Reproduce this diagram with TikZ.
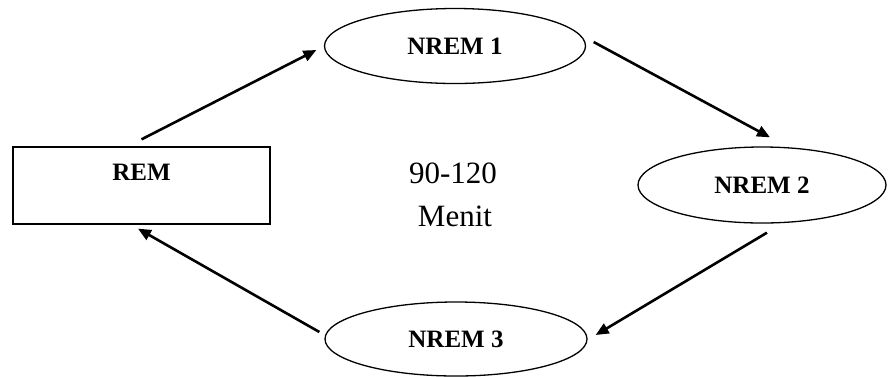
\documentclass[tikz,border=0pt]{standalone}
\usepackage{fontspec}
\setmainfont{Liberation Serif}
\usetikzlibrary{shapes.geometric,arrows.meta}
\begin{document}
\begin{tikzpicture}[x=1pt,y=-1pt,
  stage/.style={ellipse,draw,line width=1.3pt,inner sep=0pt,font=\fontsize{25}{30}\selectfont\bfseries},
  flow/.style={line width=2.6pt,-{Triangle[length=13pt,width=11pt]}},
  midtext/.style={font=\fontsize{31}{36}\selectfont,inner sep=0pt}]
\useasboundingbox[fill=white] (0,0) rectangle (888,376);
\node[stage,minimum width=261pt,minimum height=75pt] (n1) at (455,46) {NREM 1};
\node[stage,minimum width=248pt,minimum height=76pt] (n2) at (762,185) {NREM 2};
\node[stage,minimum width=262pt,minimum height=74pt] (n3) at (456,339) {NREM 3};
\node[draw,line width=1.3pt,rectangle,inner sep=0pt,minimum width=257pt,
  text height=33.5pt,text depth=43.5pt,font=\fontsize{25}{30}\selectfont\bfseries] (rem) at (141.5,185.5) {REM};
\node[midtext] (t1) at (453,173) {90-120};
\node[midtext] (t2) at (455,216) {Menit};
\draw[flow] ([yshift=7pt]rem.north) -- ([xshift=-7.5pt,yshift=-4pt]n1.west);
\draw[flow] ([xshift=7.5pt,yshift=4pt]n1.east) -- ([xshift=8pt,yshift=9pt]n2.north);
\draw[flow] ([xshift=5pt,yshift=-9pt]n2.south) -- ([xshift=8pt,yshift=4pt]n3.east);
\draw[flow] ([xshift=-5pt,yshift=7pt]n3.west) -- ([xshift=-3.5pt,yshift=-4pt]rem.south);
\end{tikzpicture}
\end{document}
